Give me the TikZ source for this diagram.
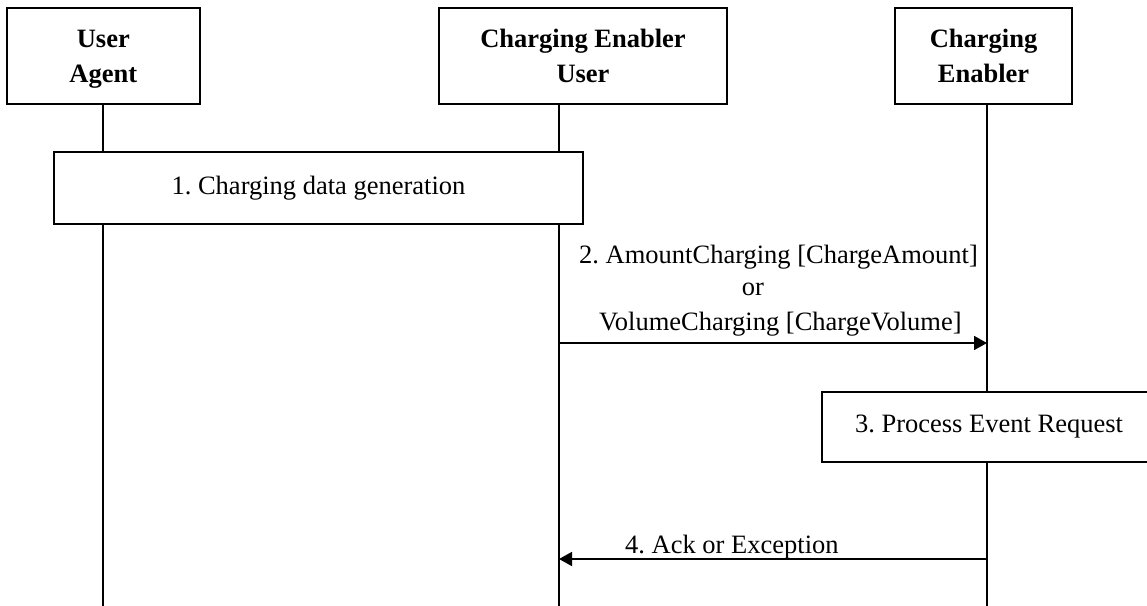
\documentclass[tikz,border=0pt]{standalone}
\usepackage{fontspec}
\setmainfont{Liberation Serif}
\usetikzlibrary{arrows.meta,calc}
\tikzset{
  every node/.style={font=\fontsize{26.5}{35}\selectfont},
  actor/.style={draw, line width=2pt, fill=white, align=center, inner sep=0pt,
    font=\fontsize{26.5}{35}\selectfont\bfseries, text depth=0pt},
  actbox/.style={draw, line width=2pt, fill=white, inner sep=0pt, align=center},
  life/.style={line width=1.8pt},
  msg/.style={line width=1.8pt, -{Triangle[length=13pt,width=14pt]}},
  lbl/.style={inner sep=0pt}
}
\begin{document}
\frenchspacing
\begin{tikzpicture}[x=1pt,y=-1pt]
\clip (0,0) rectangle (1147,605);
\fill[white] (0,0) rectangle (1147,605);
% header boxes
\node[actor, minimum width=193pt, minimum height=96pt] (ua) at (103.3,56) {User\\Agent};
\node[actor, minimum width=288pt, minimum height=96pt] (ceu) at (583,56) {Charging Enabler\\User};
\node[actor, minimum width=177pt, minimum height=96pt] (ce) at (983.5,56) {Charging\\Enabler};
% activity boxes
\node[actbox, minimum width=529pt, minimum height=72pt] (b1) at (318.5,188) {1. Charging data generation};
\node[actbox, minimum width=334pt, minimum height=70pt] (b3) at (989,427) {3. Process Event Request};
% lifeline positions
\coordinate (xua) at (102.7,0);
\coordinate (xceu) at (559,0);
\coordinate (xce) at (987,0);
\coordinate (bot) at (0,606);
\coordinate (m2) at (0,343);
\coordinate (m4) at (0,559);
% lifelines
\draw[life] (xua |- ua.south) -- (xua |- b1.north);
\draw[life] (xua |- b1.south) -- (xua |- bot);
\draw[life] (xceu |- ceu.south) -- (xceu |- b1.north);
\draw[life] (xceu |- b1.south) -- (xceu |- bot);
\draw[life] (xce |- ce.south) -- (xce |- b3.north);
\draw[life] (xce |- b3.south) -- (xce |- bot);
% messages
\draw[msg] (xceu |- m2) -- (xce |- m2);
\draw[msg] (xce |- m4) -- (xceu |- m4);
% message labels
\node[lbl, anchor=base west] (l2a) at (579,263) {2. AmountCharging [ChargeAmount]};
\node[lbl, anchor=base] (l2b) at (753,295) {or};
\node[lbl, anchor=base west] (l2c) at (599,330) {VolumeCharging [ChargeVolume]};
\node[lbl, anchor=base west] (l4) at (625,553) {4. Ack or Exception};
\end{tikzpicture}
\end{document}
